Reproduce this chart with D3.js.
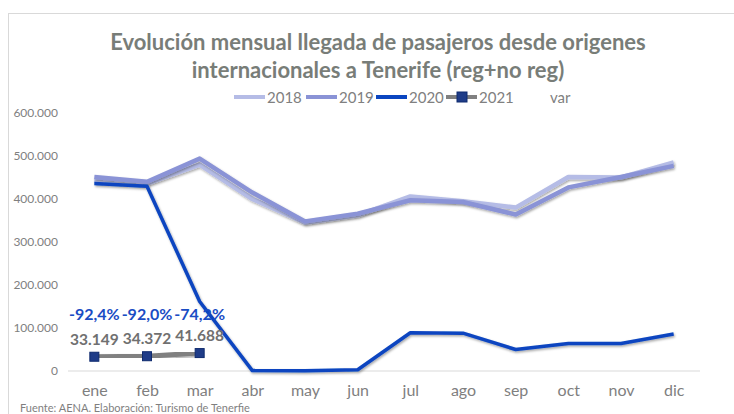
<!DOCTYPE html>
<html>
<head>
<meta charset="utf-8">
<script src="https://cdn.jsdelivr.net/npm/d3@7"></script>
<style>
  body { margin: 0; background: #fff; }
  svg text { font-family: Lato, "Open Sans", sans-serif; }
  .axis path, .axis line { display: none; }
  .axis text { fill: #7f7f7f; }
</style>
</head>
<body>
<div id="chart"></div>
<script>
const months = ['ene', 'feb', 'mar', 'abr', 'may', 'jun', 'jul', 'ago', 'sep', 'oct', 'nov', 'dic'];
const v2018 = [443000, 436000, 480000, 400000, 345000, 362000, 406000, 395000, 380000, 451000, 450000, 485000];
const v2019 = [451000, 440000, 494000, 415000, 348000, 366000, 397000, 393000, 364000, 427000, 451000, 477000];
const v2020 = [436200, 429600, 161600, 1000, 500, 3000, 89000, 88000, 50000, 64000, 64000, 86000];
const v2021 = [33149, 34372, 41688];
const varLabels = ['-92,4%', '-92,0%', '-74,2%'];
const yTicks = [0, 100000, 200000, 300000, 400000, 500000, 600000];

const W = 734, H = 414;
const M = { top: 113, right: 34, bottom: 43, left: 68 };

const svg = d3.select('#chart').append('svg').attr('width', W).attr('height', H);

const defs = svg.append('defs');
const f = defs.append('filter').attr('id', 'shadow').attr('x', '-5%').attr('y', '-5%').attr('width', '110%').attr('height', '120%');
f.append('feDropShadow').attr('dx', 1).attr('dy', 1.5).attr('stdDeviation', 1).attr('flood-color', '#000').attr('flood-opacity', 0.35);

// chart frame
svg.append('rect').attr('x', 8.5).attr('y', 13.5).attr('width', W + 20).attr('height', H + 20)
  .attr('fill', 'none').attr('stroke', '#d9d9d9');

const x = d3.scalePoint().domain(months).range([M.left, W - M.right]).padding(0.5);
const y = d3.scaleLinear().domain([0, 600000]).range([H - M.bottom, M.top]);

const fmt = d3.formatLocale({ decimal: ',', thousands: '.', grouping: [3], currency: ['', '€'] }).format(',');

// title
const title = svg.append('text').attr('text-anchor', 'middle').attr('fill', '#787d78')
  .style('font-size', '22px').style('font-weight', 'bold');
title.append('tspan').attr('x', 378).attr('y', 50).text('Evolución mensual llegada de pasajeros desde origenes');
title.append('tspan').attr('x', 378).attr('y', 78).text('internacionales a Tenerife (reg+no reg)');

// baseline
svg.append('line').attr('x1', M.left).attr('x2', W - M.right)
  .attr('y1', y(0)).attr('y2', y(0)).attr('stroke', '#d9d9d9');

// axes
svg.append('g').attr('class', 'axis').attr('transform', `translate(${M.left},0)`)
  .call(d3.axisLeft(y).tickValues(yTicks).tickFormat(fmt).tickSize(0).tickPadding(10))
  .selectAll('text').style('font-size', '12px');
svg.append('g').attr('class', 'axis').attr('transform', `translate(0,${y(0)})`)
  .call(d3.axisBottom(x).tickSize(0).tickPadding(14))
  .selectAll('text').style('font-size', '16px');

const line = d3.line().x((d, i) => x(months[i])).y((d) => y(d));

const series = [
  { name: '2018', data: v2018, color: '#b5bce6', width: 4.5 },
  { name: '2019', data: v2019, color: '#8a93d6', width: 4.5 },
  { name: '2020', data: v2020, color: '#0a45c0', width: 3.5 },
  { name: '2021', data: v2021, color: '#808080', width: 5 },
];

for (const s of series) {
  svg.append('path').datum(s.data).attr('d', line)
    .attr('fill', 'none').attr('stroke', s.color).attr('stroke-width', s.width)
    .attr('stroke-linejoin', 'round').attr('filter', 'url(#shadow)');
}

// 2021 markers
svg.selectAll('.m21').data(v2021).join('rect').attr('class', 'm21')
  .attr('x', (d, i) => x(months[i]) - 4.5).attr('y', (d) => y(d) - 4.5)
  .attr('width', 9).attr('height', 9)
  .attr('fill', '#1f3c88').attr('stroke', '#0e2a6e').attr('stroke-width', 1);

// value labels
svg.selectAll('.lab21').data(v2021).join('text').attr('class', 'lab21')
  .attr('x', (d, i) => x(months[i])).attr('y', (d) => y(d) - 12)
  .attr('text-anchor', 'middle').attr('fill', '#707070')
  .style('font-size', '15.5px').style('font-weight', 'bold')
  .text((d) => fmt(d));
svg.selectAll('.labvar').data(varLabels).join('text').attr('class', 'labvar')
  .attr('x', (d, i) => x(months[i])).attr('y', 320)
  .attr('text-anchor', 'middle').attr('fill', '#1a4cc4')
  .style('font-size', '16px').style('font-weight', 'bold')
  .text((d) => d);

// legend
const legend = svg.append('g').attr('transform', 'translate(234,97)');
const legItems = [
  { name: '2018', color: '#b5bce6', x: 0 },
  { name: '2019', color: '#8a93d6', x: 72 },
  { name: '2020', color: '#0a45c0', x: 142 },
  { name: '2021', color: '#808080', x: 212, marker: true },
];
for (const it of legItems) {
  legend.append('line').attr('x1', it.x).attr('x2', it.x + 31).attr('y1', 0).attr('y2', 0)
    .attr('stroke', it.color).attr('stroke-width', 4);
  if (it.marker) {
    legend.append('rect').attr('x', it.x + 11).attr('y', -5).attr('width', 10).attr('height', 10)
      .attr('fill', '#1f3c88').attr('stroke', '#0e2a6e');
  }
  legend.append('text').attr('x', it.x + 33).attr('y', 5.5).attr('fill', '#808080')
    .style('font-size', '15px').text(it.name);
}
legend.append('text').attr('x', 316).attr('y', 5.5).attr('fill', '#808080')
  .style('font-size', '15px').text('var');

// source
svg.append('text').attr('x', 20).attr('y', 412).attr('fill', '#7f7f7f')
  .style('font-size', '11px').text('Fuente: AENA. Elaboración: Turismo de Tenerfie');
</script>
</body>
</html>
